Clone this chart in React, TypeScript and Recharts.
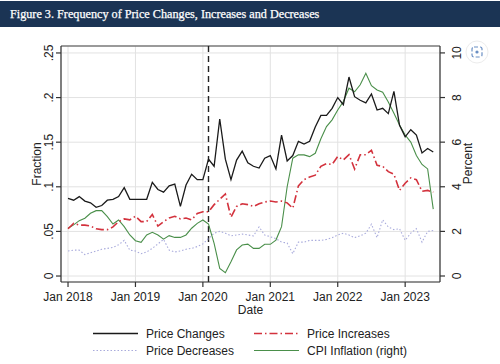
import React from "react";
import { ComposedChart, Line, XAxis, YAxis, CartesianGrid, ReferenceLine } from "recharts";

// Monthly observations, Jan 2018 .. Jun 2023
const priceChanges = [
  0.087, 0.085, 0.089, 0.084, 0.082, 0.077, 0.079, 0.085, 0.086, 0.089, 0.099, 0.086,
  0.086, 0.086, 0.086, 0.105, 0.097, 0.094, 0.101, 0.103, 0.078, 0.102, 0.114, 0.108,
  0.108, 0.131, 0.123, 0.176, 0.131, 0.108, 0.130, 0.140, 0.127, 0.123, 0.121, 0.132,
  0.135, 0.120, 0.158, 0.129, 0.135, 0.151, 0.148, 0.151, 0.167, 0.180, 0.180, 0.188,
  0.200, 0.192, 0.223, 0.201, 0.197, 0.194, 0.204, 0.186, 0.188, 0.182, 0.207, 0.169,
  0.156, 0.164, 0.158, 0.138, 0.143, 0.139,
];
const priceIncreases = [
  0.053, 0.059, 0.057, 0.057, 0.056, 0.053, 0.052, 0.052, 0.055, 0.061, 0.064, 0.063,
  0.067, 0.061, 0.061, 0.069, 0.056, 0.061, 0.065, 0.067, 0.064, 0.065, 0.063, 0.070,
  0.072, 0.072, 0.080, 0.086, 0.092, 0.066, 0.078, 0.081, 0.080, 0.078, 0.081, 0.083,
  0.084, 0.083, 0.084, 0.082, 0.076, 0.101, 0.108, 0.111, 0.113, 0.123, 0.126, 0.125,
  0.134, 0.130, 0.136, 0.120, 0.136, 0.136, 0.141, 0.124, 0.123, 0.117, 0.114, 0.096,
  0.104, 0.110, 0.108, 0.095, 0.096, 0.094,
];
const priceDecreases = [
  0.028, 0.029, 0.029, 0.024, 0.026, 0.028, 0.030, 0.031, 0.032, 0.035, 0.040, 0.029,
  0.028, 0.025, 0.027, 0.031, 0.036, 0.041, 0.029, 0.027, 0.028, 0.030, 0.031, 0.033,
  0.036, 0.042, 0.048, 0.050, 0.048, 0.045, 0.046, 0.047, 0.046, 0.045, 0.055, 0.046,
  0.044, 0.042, 0.038, 0.037, 0.025, 0.038, 0.038, 0.040, 0.040, 0.040, 0.041, 0.043,
  0.046, 0.048, 0.046, 0.043, 0.045, 0.048, 0.058, 0.043, 0.063, 0.055, 0.052, 0.053,
  0.040, 0.048, 0.053, 0.038, 0.050, 0.051,
];
const cpiInflation = [
  2.14, 2.29, 2.48, 2.59, 2.81, 2.93, 2.93, 2.66, 2.33, 2.51, 2.21, 1.84,
  1.58, 1.51, 1.84, 1.96, 1.84, 1.65, 1.81, 1.73, 1.73, 1.84, 2.14, 2.36,
  2.51, 2.33, 1.46, 0.34, 0.15, 0.64, 1.17, 1.39, 1.43, 1.24, 1.24, 1.42,
  1.42, 1.61, 2.21, 4.0, 5.28, 5.43, 5.43, 5.35, 5.5, 6.15, 6.7, 7.0,
  7.44, 7.82, 8.42, 8.26, 8.57, 9.09, 8.53, 8.34, 8.24, 7.8, 7.3, 6.77,
  6.32, 6.0, 5.4, 5.0, 4.8, 3.0,
];

const xTickMonths = [0, 12, 24, 36, 48, 60];
const xTickLabels = ["Jan 2018", "Jan 2019", "Jan 2020", "Jan 2021", "Jan 2022", "Jan 2023"];
const leftTicks = [0, 0.05, 0.1, 0.15, 0.2, 0.25];
const leftTickLabels = ["0", ".05", ".1", ".15", ".2", ".25"];
const rightTicks = [0, 2, 4, 6, 8, 10];
const rightTickLabels = ["0", "2", "4", "6", "8", "10"];
const covidMonth = 25;

const title = "Figure 3. Frequency of Price Changes, Increases and Decreases";

const data = priceChanges.map((v, i) => ({
  m: i,
  changes: v,
  increases: priceIncreases[i],
  decreases: priceDecreases[i],
  cpi: cpiInflation[i],
}));

const FONT = "'Liberation Sans', Arial, sans-serif";
const TEXT = "#222";

const series = [
  { key: "decreases", name: "Price Decreases", axis: "left", stroke: "#a9abdc", width: 1.1, dash: "1.5 2" },
  { key: "cpi", name: "CPI Inflation (right)", axis: "right", stroke: "#4a8f4a", width: 1.1, dash: undefined },
  { key: "increases", name: "Price Increases", axis: "left", stroke: "#d3323d", width: 1.6, dash: "8 3 1.5 3" },
  { key: "changes", name: "Price Changes", axis: "left", stroke: "#1a1a1a", width: 1.3, dash: undefined },
];

const legendOrder = ["changes", "increases", "decreases", "cpi"];

const LeftTick = (props: any) => {
  const { x, y, payload } = props;
  const label = leftTickLabels[leftTicks.indexOf(payload.value)];
  return (
    <text x={x} y={y} transform={`rotate(-90 ${x} ${y})`} textAnchor="middle" fontSize={12} fill={TEXT} fontFamily={FONT}>
      {label}
    </text>
  );
};

const RightTick = (props: any) => {
  const { x, y, payload } = props;
  const label = rightTickLabels[rightTicks.indexOf(payload.value)];
  return (
    <text x={x} y={y} transform={`rotate(-90 ${x} ${y})`} textAnchor="middle" fontSize={12} fill={TEXT} fontFamily={FONT}>
      {label}
    </text>
  );
};

const XTick = (props: any) => {
  const { x, y, payload } = props;
  const label = xTickLabels[xTickMonths.indexOf(payload.value)];
  return (
    <text x={x} y={y} dy={9} textAnchor="middle" fontSize={12} fill={TEXT} fontFamily={FONT}>
      {label}
    </text>
  );
};

export default function App() {
  const legendCols = [93, 254];
  const legendRows = [333.5, 350.5];
  return (
    <div style={{ position: "absolute", left: 0, top: 0, width: 500, height: 364, background: "#fff", overflow: "hidden" }}>
      <ComposedChart width={500} height={364} data={data} margin={{ top: 46, right: 0, bottom: 0, left: 0 }}>
        <CartesianGrid yAxisId="left" stroke="#e2e2e2" strokeWidth={1} />
        <XAxis
          dataKey="m"
          type="number"
          domain={[-1.25, 66.2]}
          allowDataOverflow
          ticks={xTickMonths}
          height={82}
          tickSize={5}
          tickMargin={5}
          tick={<XTick />}
          stroke="#333"
          strokeWidth={1.2}
        />
        <YAxis
          yAxisId="left"
          orientation="left"
          width={61}
          domain={[-0.0067, 0.2578]}
          allowDataOverflow
          ticks={leftTicks}
          tickSize={5}
          tickMargin={3}
          tick={<LeftTick />}
          stroke="#333"
          strokeWidth={1.2}
        />
        <YAxis
          yAxisId="right"
          orientation="right"
          width={60}
          domain={[-0.269, 10.31]}
          allowDataOverflow
          ticks={rightTicks}
          tickSize={5}
          tickMargin={16.5}
          tick={<RightTick />}
          stroke="#333"
          strokeWidth={1.2}
        />
        <ReferenceLine yAxisId="left" y={0.2578} stroke="#444" strokeWidth={1.2} />
        <ReferenceLine yAxisId="left" x={covidMonth} stroke="#222" strokeWidth={1.4} strokeDasharray="6 4" />
        {series.map((s) => (
          <Line
            key={s.key}
            yAxisId={s.axis}
            dataKey={s.key}
            name={s.name}
            type="linear"
            stroke={s.stroke}
            strokeWidth={s.width}
            strokeDasharray={s.dash}
            dot={false}
            activeDot={false}
            isAnimationActive={false}
          />
        ))}
      </ComposedChart>

      <svg width={500} height={364} style={{ position: "absolute", left: 0, top: 0, pointerEvents: "none" }}>
        <text x={40.5} y={164} transform="rotate(-90 40.5 164)" textAnchor="middle" fontSize={12} fill={TEXT} fontFamily={FONT}>
          Fraction
        </text>
        <text x={471.5} y={163.5} transform="rotate(-90 471.5 163.5)" textAnchor="middle" fontSize={12} fill={TEXT} fontFamily={FONT}>
          Percent
        </text>
        <text x={250.5} y={314} textAnchor="middle" fontSize={12} fill={TEXT} fontFamily={FONT}>
          Date
        </text>
        {legendOrder.map((k, i) => {
          const s = series.find((z) => z.key === k)!;
          const cx = legendCols[i % 2];
          const cy = legendRows[Math.floor(i / 2)];
          return (
            <g key={k}>
              <line x1={cx} x2={cx + 45} y1={cy} y2={cy} stroke={s.stroke} strokeWidth={s.width} strokeDasharray={s.dash} />
              <text x={cx + 53} y={cy + 4} fontSize={12} fill={TEXT} fontFamily={FONT}>
                {s.name}
              </text>
            </g>
          );
        })}
        <circle cx={477} cy={52} r={11} fill="#fff" stroke="#ececec" />
        <rect x={472} y={47} width={10} height={10} rx={2} fill="none" stroke="#6a8fc4" strokeWidth={1.2} strokeDasharray="4 2" />
        <circle cx={477} cy={52} r={1.6} fill="#6a8fc4" />
      </svg>

      <div
        style={{
          position: "absolute",
          left: 0,
          top: 1,
          width: 500,
          height: 26,
          background: "#1b3454",
          color: "#fff",
          fontFamily: "'Liberation Serif', 'DejaVu Serif', serif",
          fontSize: 12.2,
          lineHeight: "26px",
          paddingLeft: 10,
          boxSizing: "border-box",
          whiteSpace: "nowrap",
          WebkitTextStroke: "0.25px #fff",
        }}
      >
        {title}
      </div>
    </div>
  );
}
